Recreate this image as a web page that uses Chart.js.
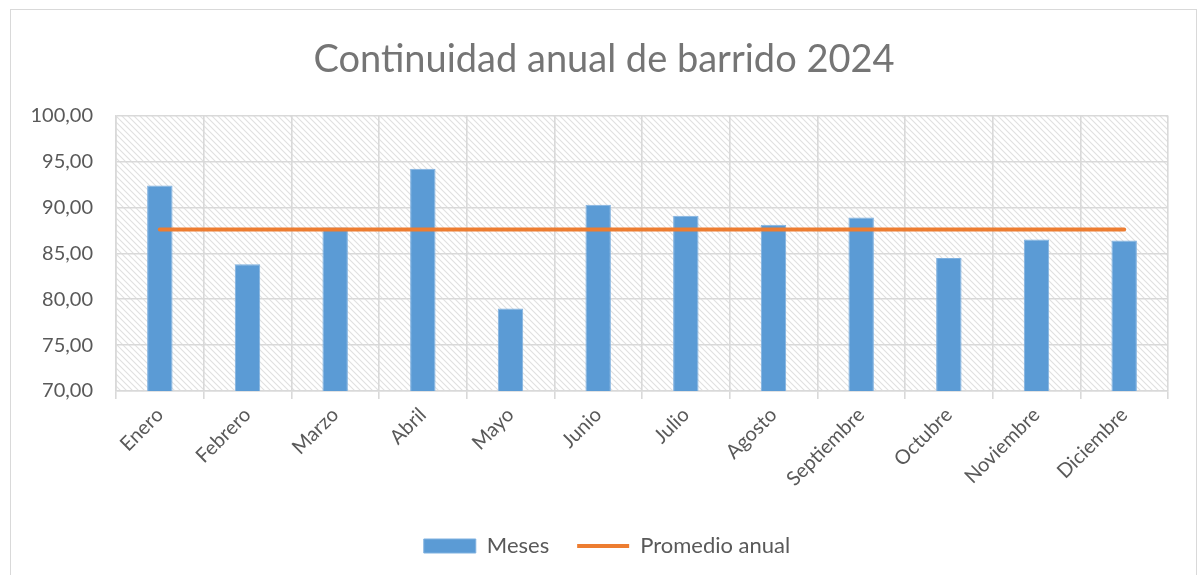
<!DOCTYPE html>
<html>
<head>
<meta charset="utf-8">
<script src="https://cdn.jsdelivr.net/npm/chart.js@4/dist/chart.umd.min.js"></script>
<style>
  html, body { margin: 0; padding: 0; background: #fff; }
  #wrap { position: relative; width: 1202px; height: 575px; overflow: hidden; }
  #frame { position: absolute; left: 10px; top: 9px; width: 1187px; height: 600px; border: 1px solid #d9d9d9; box-sizing: border-box; }
  canvas { position: absolute; left: 0; top: 0; }
</style>
</head>
<body>
<div id="wrap">
  <div id="frame"></div>
  <canvas id="c" width="1202" height="575"></canvas>
</div>
<script>
const titleText = 'Continuidad anual de barrido 2024';
const categories = ['Enero','Febrero','Marzo','Abril','Mayo','Junio','Julio','Agosto','Septiembre','Octubre','Noviembre','Diciembre'];
const mesesValues = [92.4, 83.8, 87.8, 94.2, 79.0, 90.3, 89.1, 88.1, 88.9, 84.5, 86.5, 86.4];
const promedioValues = [87.6, 87.6, 87.6, 87.6, 87.6, 87.6, 87.6, 87.6, 87.6, 87.6, 87.6, 87.6];
const yMin = 70, yMax = 100, yStep = 5;

const FONT = 'Lato, "Open Sans", sans-serif';

function makePattern() {
  const p = document.createElement('canvas');
  p.width = 6; p.height = 6;
  const g = p.getContext('2d');
  g.strokeStyle = '#e0e0e0';
  g.lineWidth = 1.1;
  g.beginPath();
  g.moveTo(-1, -1); g.lineTo(7, 7);
  g.moveTo(-4, 2); g.lineTo(4, 10);
  g.moveTo(2, -4); g.lineTo(10, 4);
  g.stroke();
  return document.getElementById('c').getContext('2d').createPattern(p, 'repeat');
}

const hatchPlugin = {
  id: 'hatch',
  afterLayout(chart) {
    // center title and legend over the whole frame rather than the padded area
    if (chart.titleBlock) { chart.titleBlock.left += 15; chart.titleBlock.right += 15; }
    if (chart.legend) { chart.legend.left += 18; chart.legend.right += 18; }
  },
  beforeDraw(chart) {
    const {ctx, chartArea: a} = chart;
    ctx.save();
    ctx.fillStyle = makePattern();
    ctx.fillRect(a.left, a.top, a.right - a.left, a.bottom - a.top);
    ctx.restore();
  }
};

new Chart(document.getElementById('c'), {
  data: {
    labels: categories,
    datasets: [
      {
        type: 'line',
        label: 'Promedio anual',
        data: promedioValues,
        borderColor: '#ed7d31',
        backgroundColor: '#ed7d31',
        borderWidth: 4,
        borderCapStyle: 'round',
        pointRadius: 0,
        pointStyle: 'line',
        order: 0
      },
      {
        type: 'bar',
        label: 'Meses',
        data: mesesValues,
        backgroundColor: '#5b9bd5',
        borderColor: '#7fb1e0',
        borderWidth: 1,
        barPercentage: 0.29,
        categoryPercentage: 1,
        pointStyle: 'rect',
        order: 1
      }
    ]
  },
  options: {
    responsive: false,
    animation: false,
    layout: { padding: { left: 10, right: 34, top: 29, bottom: 8 } },
    plugins: {
      title: {
        display: true,
        text: titleText,
        color: '#757575',
        font: { family: FONT, size: 38, weight: 'normal' },
        padding: { top: 8, bottom: 33 }
      },
      legend: {
        position: 'bottom',
        reverse: true,
        labels: {
          usePointStyle: true,
          pointStyleWidth: 52,
          boxHeight: 14,
          color: '#595959',
          font: { family: FONT, size: 22 },
          padding: 28
        }
      },
      tooltip: { enabled: false }
    },
    scales: {
      x: {
        grid: { color: '#d9d9d9', lineWidth: 1.6, offset: true, tickLength: 8, drawTicks: true },
        border: { color: '#d9d9d9', width: 1.6 },
        afterFit(scale) { scale.height += 12; },
        ticks: {
          color: '#595959',
          font: { family: FONT, size: 20 },
          minRotation: 45, maxRotation: 45,
          padding: 4
        }
      },
      y: {
        min: yMin, max: yMax,
        grid: { color: '#d9d9d9', lineWidth: 1.6, drawTicks: false },
        border: { color: '#d9d9d9', width: 1.6 },
        afterFit(scale) { scale.width = 106; },
        ticks: {
          stepSize: yStep,
          color: '#595959',
          font: { family: FONT, size: 20 },
          padding: 23,
          callback: v => v.toFixed(2).replace('.', ',')
        }
      }
    }
  },
  plugins: [hatchPlugin]
});
</script>
</body>
</html>
